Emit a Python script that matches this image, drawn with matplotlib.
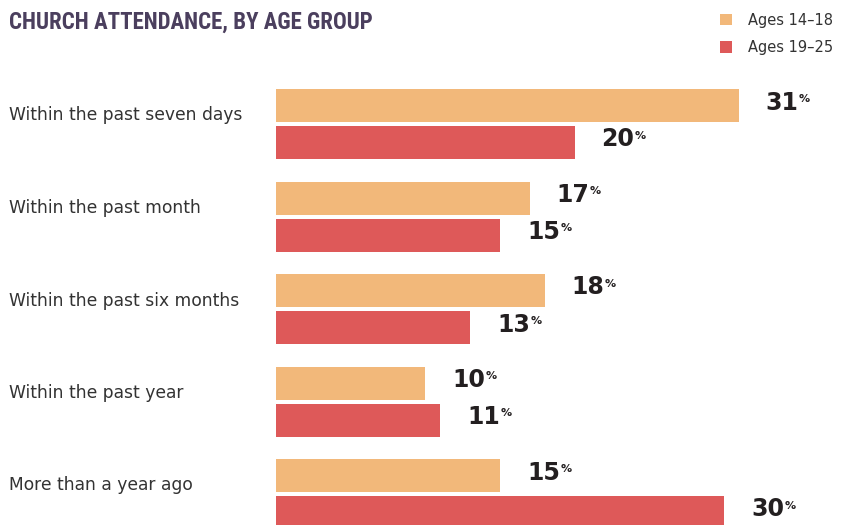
import numpy as np
import matplotlib
matplotlib.use('Agg')
import matplotlib.pyplot as plt
from matplotlib.transforms import blended_transform_factory

# survey data
categories = ['Within the past seven days', 'Within the past month',
              'Within the past six months', 'Within the past year',
              'More than a year ago']
ages_14_18 = [31, 17, 18, 10, 15]
ages_19_25 = [20, 15, 13, 11, 30]
series_names = ['Ages 14\u201318', 'Ages 19\u201325']

col_young = '#f2b87a'
col_old = '#de5959'
txt_col = '#231f20'
title_col = '#4b3f5e'

W, H = 849, 525
fig = plt.figure(figsize=(W / 100, H / 100), dpi=100)

# axes: x in percent, y in pixel rows (top = 0)
x0 = 276
px_per_pct = 14.93
ax = fig.add_axes([x0 / W, 0, (W - x0) / W, 1])
ax.set_xlim(0, (W - x0) / px_per_pct)
ax.set_ylim(H, 0)
ax.axis('off')

bar_h = 33
step = 92.5
idx = np.arange(len(categories))
y_young = 105.5 + step * idx
y_old = 142.5 + step * idx

b1 = ax.barh(y_young, ages_14_18, height=bar_h, color=col_young, label=series_names[0])
b2 = ax.barh(y_old, ages_19_25, height=bar_h, color=col_old, label=series_names[1])

# value labels with small raised percent sign
pad = 27 / px_per_pct
for ys, vals in [(y_young, ages_14_18), (y_old, ages_19_25)]:
    for y, v in zip(ys, vals):
        t = ax.text(v + pad, y - 3, str(v), fontsize=17, fontweight='bold',
                    color=txt_col, ha='left', va='center')
        ax.annotate('%', xy=(1, 1), xycoords=t, xytext=(0.3, -2.5),
                    textcoords='offset points', ha='left', va='top',
                    fontsize=8, fontweight='bold', color=txt_col)

# category labels on the left
tr = blended_transform_factory(fig.transFigure, ax.transData)
for y, c in zip(y_young, categories):
    ax.text(9 / W, y + 10, c, transform=tr, fontsize=12.3, color='#333333',
            ha='left', va='center')

fig.text(9 / W, 1 - 22 / H, 'CHURCH ATTENDANCE, BY AGE GROUP',
         family=['Liberation Sans Narrow', 'Roboto Condensed', 'Open Sans Condensed',
                 'Roboto'],
         fontstretch='condensed', fontweight='bold',
         fontsize=16.5, color=title_col, ha='left', va='center')

ax.legend(handles=[b1, b2], loc='upper left', bbox_to_anchor=(714 / W, 1 - 7 / H),
          bbox_transform=fig.transFigure, frameon=False, fontsize=10.5,
          handlelength=0.82, handleheight=0.82, handletextpad=1.1,
          labelspacing=0.85, labelcolor='#333333', borderaxespad=0)

plt.savefig('out.png', dpi=100)
